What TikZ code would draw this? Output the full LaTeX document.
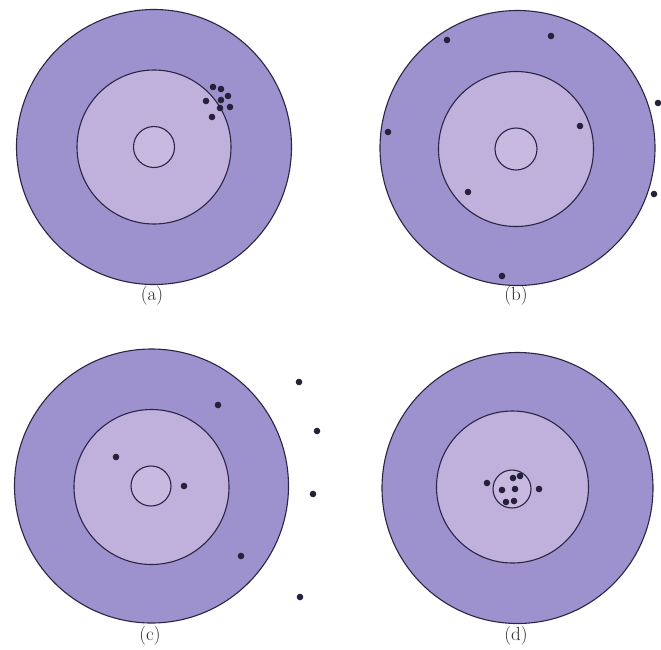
\documentclass[tikz,border=0pt]{standalone}
\definecolor{outerc}{HTML}{9D92CE}
\definecolor{midc}{HTML}{BFB0DC}
\definecolor{innc}{HTML}{C8B9E0}
\definecolor{edgec}{HTML}{2A2545}
\definecolor{dotc}{HTML}{25213A}
\tikzset{
  ringline/.style={draw=edgec, line width=1.1pt},
  outerring/.style={ringline, fill=outerc},
  midring/.style={ringline, fill=midc},
  innring/.style={ringline, fill=innc},
  hit/.style={fill=dotc},
  caption/.style={font=\fontsize{19}{22}\selectfont, text=black!85, inner sep=0pt}
}
\begin{document}
\begin{tikzpicture}[x=1pt,y=-1pt]
\useasboundingbox (0,0) rectangle (661,649);
\fill[white] (0,0) rectangle (661,649);
% (a)
\draw[outerring] (154,147) circle (137.5);
\draw[midring] (154,147) circle (77);
\draw[innring] (154,147) circle (20.5);
\foreach \p in {(213,87),(221,89),(228,96),(206,101),(221,100),(220,108),(230,107),(212,117)}
  \fill[hit] \p circle (3.3);
\node[caption] (la) at (152,296) {(a)};
% (b)
\draw[outerring] (517.5,148) circle (137.5);
\draw[midring] (516,149) circle (77.5);
\draw[innring] (516,149) circle (21);
\foreach \p in {(447,40),(551,36),(658,103),(388,132),(580,126),(468,192),(654,194),(502,276)}
  \fill[hit] \p circle (3.3);
\node[caption] (lb) at (516,296) {(b)};
% (c)
\draw[outerring] (151.5,486) circle (137);
\draw[midring] (151.5,487) circle (77.5);
\draw[innring] (151,486) circle (20);
\foreach \p in {(218,405),(116,457),(184,486),(241,556),(299,382),(317,431),(313,494),(300,597)}
  \fill[hit] \p circle (3.3);
\node[caption] (lc) at (150,636) {(c)};
% (d)
\draw[outerring] (517.5,488) circle (135.5);
\draw[midring] (512.5,487) circle (76);
\draw[innring] (512,489) circle (19);
\foreach \p in {(487,483),(513,478),(520,476),(502,490),(515,489),(539,489),(506,502),(514,501)}
  \fill[hit] \p circle (3.3);
\node[caption] (ld) at (516,636) {(d)};
\end{tikzpicture}
\end{document}
